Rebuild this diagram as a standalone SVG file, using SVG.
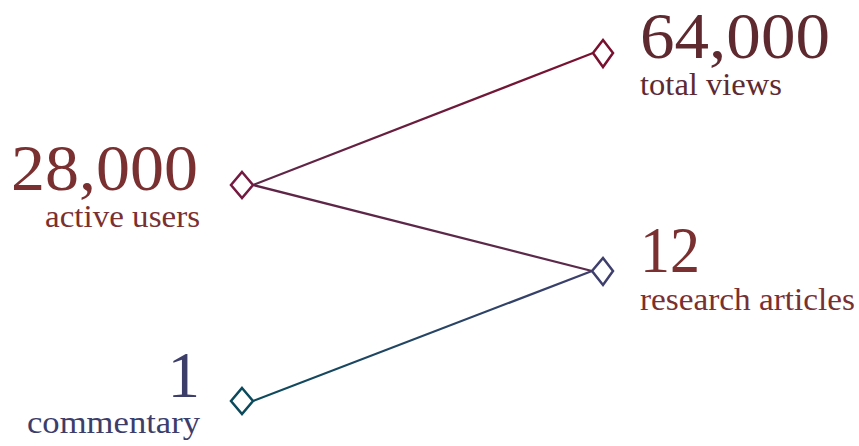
<svg xmlns="http://www.w3.org/2000/svg" width="859" height="446" viewBox="0 0 859 446">
<style>
.num{font-family:"Liberation Serif","DejaVu Serif",serif;font-size:65px}
.lbl{font-family:"Liberation Serif","DejaVu Serif",serif;font-size:32px}
.dia{fill:#fff;stroke-width:2.5}
.ln{fill:none;stroke-width:2.2}
</style>
<defs>
<linearGradient id="g1" gradientUnits="userSpaceOnUse" x1="253" y1="185" x2="593" y2="53"><stop offset="0" stop-color="#5c2848"/><stop offset="1" stop-color="#7a1030"/></linearGradient>
<linearGradient id="g2" gradientUnits="userSpaceOnUse" x1="253" y1="185" x2="592" y2="271"><stop offset="0" stop-color="#5e2446"/><stop offset="1" stop-color="#5a2a4a"/></linearGradient>
<linearGradient id="g3" gradientUnits="userSpaceOnUse" x1="253" y1="401" x2="592" y2="271"><stop offset="0" stop-color="#0b4a5c"/><stop offset="1" stop-color="#3e3f6c"/></linearGradient>
</defs>
<g id="connectors">
<line class="ln" x1="253" y1="185" x2="593" y2="53" stroke="url(#g1)"/>
<line class="ln" x1="253" y1="185" x2="592" y2="271" stroke="url(#g2)"/>
<line class="ln" x1="253" y1="401" x2="592" y2="271" stroke="url(#g3)"/>
</g>
<g id="active-users">
<polygon class="dia" stroke="#74193f" points="242,172 253,185 242,198 231,185"/>
<text class="num" x="198" y="190" text-anchor="end" fill="#7a3030" textLength="187" lengthAdjust="spacingAndGlyphs">28,000</text>
<text class="lbl" x="200" y="227" text-anchor="end" fill="#7a3030" textLength="155" lengthAdjust="spacingAndGlyphs">active users</text>
</g>
<g id="total-views">
<polygon class="dia" stroke="#7a1030" points="603,40 613,53 603,67 593,53"/>
<text class="num" x="640" y="58" fill="#5e2a30" textLength="190" lengthAdjust="spacingAndGlyphs">64,000</text>
<text class="lbl" x="640" y="95" fill="#5e2a30" textLength="142" lengthAdjust="spacingAndGlyphs">total views</text>
</g>
<g id="research-articles">
<polygon class="dia" stroke="#3e3f6c" points="603,258 613,271 603,285 592,271"/>
<text class="num" x="640" y="272" fill="#7a3030" textLength="60" lengthAdjust="spacingAndGlyphs">12</text>
<text class="lbl" x="640" y="310" fill="#7a3030" textLength="215" lengthAdjust="spacingAndGlyphs">research articles</text>
</g>
<g id="commentary">
<polygon class="dia" stroke="#0b4a5c" points="242,388 253,401 242,414 231,401"/>
<text class="num" x="200" y="397" text-anchor="end" fill="#3d3d6a">1</text>
<text class="lbl" x="200" y="433" text-anchor="end" fill="#3d3d6a" textLength="173" lengthAdjust="spacingAndGlyphs">commentary</text>
</g>
</svg>
